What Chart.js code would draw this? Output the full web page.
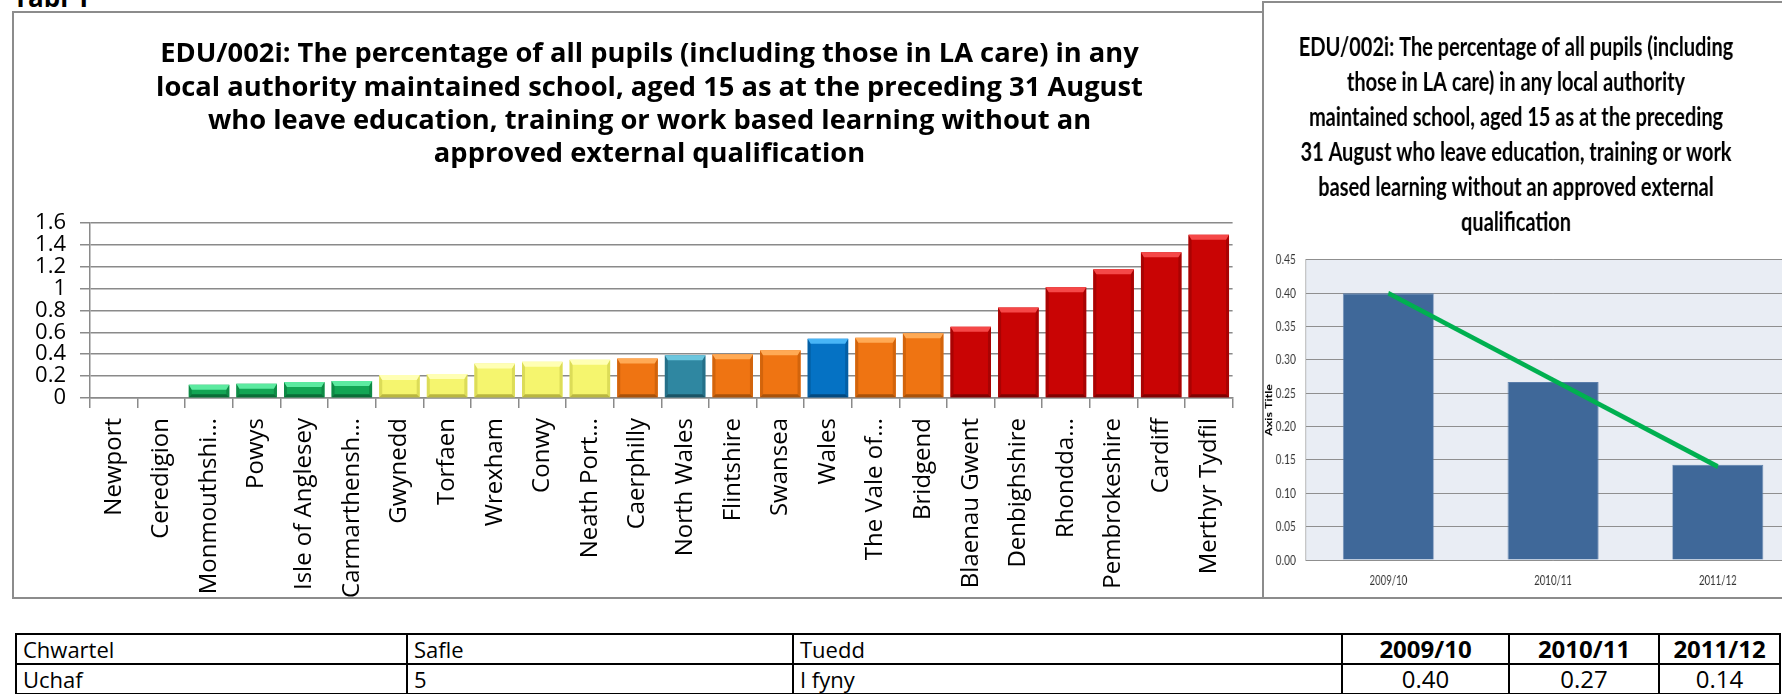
<!DOCTYPE html>
<html><head><meta charset="utf-8">
<script src="https://cdn.jsdelivr.net/npm/chart.js@4.4.1/dist/chart.umd.min.js"></script>
<style>
html,body{margin:0;padding:0;background:#fff;}
body{width:1782px;height:694px;overflow:hidden;position:relative;font-family:'Open Sans',sans-serif;}
#tabl{position:absolute;left:13px;top:-16px;font:bold 26px/26px 'Open Sans',sans-serif;color:#000;white-space:nowrap;}
.box{position:absolute;border:2px solid #8c8c8c;box-sizing:border-box;z-index:5;pointer-events:none;}
#leftBox{left:12px;top:11px;width:1252px;height:588px;}
#rightBox{left:1262px;top:1px;width:560px;height:598px;}
#leftWrap{position:absolute;left:14px;top:14px;width:1271px;height:584px;}
#rightWrap{position:absolute;left:1230px;top:4px;width:773px;height:593px;transform:scaleX(0.74);transform-origin:0 0;}
#tbl{position:absolute;left:15px;top:633px;border-collapse:collapse;table-layout:fixed;}
#tbl td{border:2px solid #000;padding:0;font-size:22px;line-height:26px;color:#000;white-space:nowrap;overflow:hidden;vertical-align:middle;}
#tbl tr{height:30px;}
</style></head>
<body>
<div id="tabl">Tabl 1</div>
<div id="leftWrap"><canvas id="leftChart"></canvas></div>
<div id="rightWrap"><canvas id="rightChart"></canvas></div>
<div class="box" id="leftBox"></div>
<div class="box" id="rightBox"></div>
<table id="tbl"><colgroup id="cols"></colgroup><tbody id="tbody"></tbody></table>
<script>
// ---------- data ----------
const chartTitleLeft = [
  'EDU/002i: The percentage of all pupils (including those in LA care) in any',
  'local authority maintained school, aged 15 as at the preceding 31 August',
  'who leave education, training or work based learning without an',
  'approved external qualification'
];
const chartTitleRight = [
  'EDU/002i: The percentage of all pupils (including',
  'those in LA care) in any local authority',
  'maintained school, aged 15 as at the preceding',
  '31 August who leave education, training or work',
  'based learning without an approved external',
  'qualification'
];
const categories = ['Newport','Ceredigion','Monmouthshi…','Powys','Isle of Anglesey','Carmarthensh…','Gwynedd','Torfaen','Wrexham','Conwy','Neath Port…','Caerphilly','North Wales','Flintshire','Swansea','Wales','The Vale of…','Bridgend','Blaenau Gwent','Denbighshire','Rhondda…','Pembrokeshire','Cardiff','Merthyr Tydfil'];
const values = [0, 0, 0.12, 0.13, 0.145, 0.155, 0.21, 0.22, 0.315, 0.33, 0.35, 0.36, 0.39, 0.40, 0.435, 0.54, 0.55, 0.59, 0.65, 0.825, 1.01, 1.175, 1.33, 1.49];
const quartileGroup = ['green','green','green','green','green','green','yellow','yellow','yellow','yellow','yellow','orange','teal','orange','orange','blue','orange','orange','red','red','red','red','red','red'];
const years = ['2009/10','2010/11','2011/12'];
const yearValues = [0.40, 0.267, 0.143];
const trendValues = [0.40, 0.27, 0.14];
const yAxisTitleRight = 'Axis Title';
const tableHeader = ['Chwartel','Safle','Tuedd','2009/10','2010/11','2011/12'];
const tableRow = ['Uchaf','5','I fyny','0.40','0.27','0.14'];

// ---------- styles ----------
const groupStyle = {
  green: {body:'#13A554', light:'#5CEAA0', side:'#0E8A45', dark:'#0A6E37'},
  yellow:{body:'#F5F56E', light:'#FFFFB4', side:'#DCDC58', dark:'#B9B640'},
  orange:{body:'#EF7412', light:'#FFAA55', side:'#D2640C', dark:'#A8520A'},
  teal:  {body:'#2F87A1', light:'#6CC6DE', side:'#257089', dark:'#1B5466'},
  blue:  {body:'#0572C4', light:'#47B5F7', side:'#045FA5', dark:'#034A80'},
  red:   {body:'#C90404', light:'#F54848', side:'#A80303', dark:'#800202'}
};

const bevelPlugin = {
  id:'bevel',
  afterDatasetsDraw(chart){
    const ctx = chart.ctx;
    const meta = chart.getDatasetMeta(0);
    meta.data.forEach((bar,i)=>{
      const p = bar.getProps(['x','y','base','width'], true);
      const h = p.base - p.y;
      if (h < 1) return;
      const l = p.x - p.width/2, r = p.x + p.width/2;
      const bt = Math.min(5, h/2), bs = Math.min(3, h/2);
      const st = groupStyle[quartileGroup[i]];
      ctx.save();
      ctx.fillStyle = st.side;
      ctx.beginPath(); ctx.moveTo(l,p.y); ctx.lineTo(l+bs,p.y+bt); ctx.lineTo(l+bs,p.base-bs); ctx.lineTo(l,p.base); ctx.closePath(); ctx.fill();
      ctx.beginPath(); ctx.moveTo(r,p.y); ctx.lineTo(r-bs,p.y+bt); ctx.lineTo(r-bs,p.base-bs); ctx.lineTo(r,p.base); ctx.closePath(); ctx.fill();
      ctx.fillStyle = st.light;
      ctx.beginPath(); ctx.moveTo(l,p.y); ctx.lineTo(r,p.y); ctx.lineTo(r-bs,p.y+bt); ctx.lineTo(l+bs,p.y+bt); ctx.closePath(); ctx.fill();
      ctx.fillStyle = st.dark;
      ctx.beginPath(); ctx.moveTo(l,p.base); ctx.lineTo(r,p.base); ctx.lineTo(r-bs,p.base-bs); ctx.lineTo(l+bs,p.base-bs); ctx.closePath(); ctx.fill();
      ctx.restore();
    });
  }
};

const plotBgPlugin = {
  id:'plotBg',
  beforeDraw(chart, args, opts){
    const {ctx, chartArea:a} = chart;
    ctx.save(); ctx.fillStyle = opts.color || '#fff';
    ctx.fillRect(a.left, a.top, a.right-a.left, a.bottom-a.top);
    ctx.restore();
  }
};

// ---------- left chart ----------
new Chart(document.getElementById('leftChart'), {
  type:'bar',
  data:{labels:categories, datasets:[{data:values, backgroundColor:quartileGroup.map(g=>groupStyle[g].body), borderWidth:0, categoryPercentage:1, barPercentage:0.85}]},
  options:{
    responsive:true, maintainAspectRatio:false, animation:false,
    layout:{padding:{left:0,right:0,top:0,bottom:0}},
    plugins:{
      legend:{display:false}, tooltip:{enabled:false},
      title:{display:true, text:chartTitleLeft, color:'#000', font:{family:'Open Sans', size:27.3, weight:'bold', lineHeight:1.215}, padding:{top:24,bottom:52}}
    },
    scales:{
      x:{
        grid:{display:true, drawOnChartArea:false, drawTicks:true, tickLength:10, color:'#8a8a8a', lineWidth:1.5, offset:true},
        border:{display:true, color:'#8a8a8a', width:1.5},
        ticks:{autoSkip:false, maxRotation:90, minRotation:90, padding:10, color:'#000', font:{family:'Open Sans', size:24}},
        afterFit(s){ s.height = 200; }
      },
      y:{
        min:0, max:1.6,
        ticks:{stepSize:0.2, autoSkip:false, padding:14, color:'#000', font:{family:'Open Sans', size:22, lineHeight:1},
               callback:v=>String(parseFloat(Number(v).toFixed(1)))},
        grid:{color:'#8a8a8a', lineWidth:1.5, tickLength:10, drawTicks:true},
        border:{display:true, color:'#8a8a8a', width:1.5},
        afterFit(s){ s.width = 76; }
      },
      ySpace:{
        position:'right', display:true, grid:{display:false, drawTicks:false}, border:{display:false},
        ticks:{display:false}, afterFit(s){ s.width = 52.4; }
      }
    }
  },
  plugins:[bevelPlugin]
});

// ---------- right chart ----------
new Chart(document.getElementById('rightChart'), {
  type:'bar',
  data:{labels:years, datasets:[
    {type:'line', data:trendValues, borderColor:'#00B050', borderWidth:5, pointRadius:0, tension:0, order:0},
    {type:'bar', data:yearValues, backgroundColor:'#3F6899', borderColor:'#5A7DAA', borderWidth:1, categoryPercentage:1, barPercentage:0.55, order:1}
  ]},
  options:{
    responsive:true, maintainAspectRatio:false, animation:false,
    layout:{padding:{left:0,right:0,top:0,bottom:0}},
    plugins:{
      legend:{display:false}, tooltip:{enabled:false},
      title:{display:true, text:chartTitleRight, color:'#000', font:{family:'Lato', size:27, weight:'bold', lineHeight:1.296}, padding:{top:26,bottom:20}},
      plotBg:{color:'#E9EDF4'}
    },
    scales:{
      x:{
        offset:true, grid:{display:false}, border:{display:false},
        ticks:{padding:5, color:'#333', font:{family:'Lato', size:13}},
        afterFit(s){ s.height = 37; }
      },
      y:{
        min:0, max:0.45,
        ticks:{stepSize:0.05, autoSkip:false, padding:13.5, color:'#333', font:{family:'Lato', size:14}, callback:v=>Number(v).toFixed(2)},
        grid:{color:'#8F8F8F', lineWidth:1, drawTicks:false},
        border:{display:true, color:'#8F8F8F'},
        title:{display:true, text:yAxisTitleRight, color:'#000', font:{family:'Lato', size:12.5, weight:'bold'}, padding:{top:45,bottom:0}},
        afterFit(s){ s.width = 102.7; }
      }
    }
  },
  plugins:[plotBgPlugin]
});

// ---------- table ----------
const colWidths = [391, 386, 549, 167, 150, 121];
const cols = document.getElementById('cols');
colWidths.forEach(w=>{ const c=document.createElement('col'); c.style.width=w+'px'; cols.appendChild(c); });
document.getElementById('tbl').style.width = colWidths.reduce((a,b)=>a+b,0)+'px';
const tbody = document.getElementById('tbody');
[tableHeader, tableRow].forEach((row, ri)=>{
  const tr = document.createElement('tr');
  row.forEach((txt, ci)=>{
    const td = document.createElement('td');
    td.textContent = txt;
    if (ci >= 3) { td.style.textAlign='center'; td.style.fontSize='24px'; if (ri===0) td.style.fontWeight='bold'; }
    else { td.style.paddingLeft = '6px'; }
    tr.appendChild(td);
  });
  tbody.appendChild(tr);
});
</script>
</body></html>
